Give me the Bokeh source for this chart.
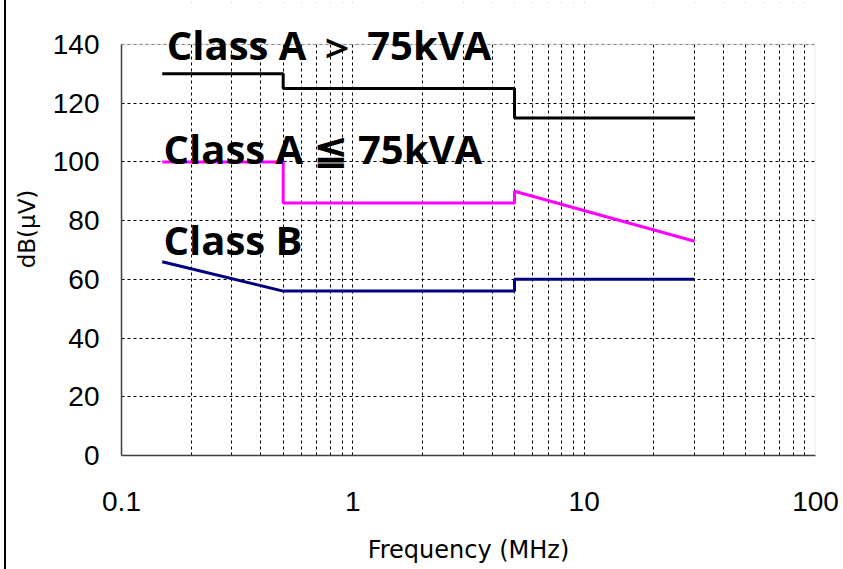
from bokeh.plotting import figure
from bokeh.models import (Range1d, FixedTicker, CustomJSTickFormatter, Label, BoxAnnotation, Div)
from bokeh.layouts import row
from bokeh.embed import file_html
from bokeh.resources import INLINE

# ---- data ----
class_a_gt_freq = [0.15, 0.5, 0.5, 5, 5, 30]
class_a_gt_level = [130, 130, 125, 125, 115, 115]

class_a_le_freq = [0.15, 0.5, 0.5, 5, 5, 30]
class_a_le_level = [100, 100, 86, 86, 90, 73]

class_b_freq = [0.15, 0.5, 5, 5, 30]
class_b_level = [66, 56, 56, 60, 60]

x_major_ticks = [0.1, 1, 10, 100]
x_tick_labels = ["0.1", "1", "10", "100"]
x_minor_ticks = [0.2, 0.3, 0.4, 0.5, 0.6, 0.7, 0.8, 0.9,
                 2, 3, 4, 5, 6, 7, 8, 9,
                 20, 30, 40, 50, 60, 70, 80, 90]
y_ticks = [0, 20, 40, 60, 80, 100, 120, 140]

series_labels = ["Class A \uff1e 75kVA", "Class A \u2266 75kVA", "Class B"]

X_MIN, X_MAX = 0.1, 100
Y_MIN, Y_MAX = 0, 140
Y_VIEW_MAX = 154.3   # extra head-room in the frame so the top label is not clipped

# ---- figure ----
p = figure(width=837, height=569, x_axis_type="log",
           x_range=Range1d(X_MIN, X_MAX), y_range=Range1d(Y_MIN, Y_VIEW_MAX),
           output_backend="svg", toolbar_location=None,
           min_border_left=115, min_border_right=28,
           min_border_top=2, min_border_bottom=114,
           background_fill_color="white", border_fill_color="white")

p.outline_line_color = None

# x axis
p.xaxis.ticker = FixedTicker(ticks=x_major_ticks, minor_ticks=x_minor_ticks)
p.xaxis.formatter = CustomJSTickFormatter(
    args=dict(tick_vals=x_major_ticks, tick_texts=x_tick_labels),
    code="""
    for (let i = 0; i < tick_vals.length; i++) {
        if (Math.abs(Math.log10(tick_vals[i]) - Math.log10(tick)) < 1e-6) return tick_texts[i];
    }
    return "";
    """)
p.yaxis.ticker = FixedTicker(ticks=y_ticks)
p.yaxis.bounds = (Y_MIN, Y_MAX)

for ax in (p.xaxis[0], p.yaxis[0]):
    ax.major_tick_out = 0
    ax.major_tick_in = 0
    ax.minor_tick_out = 0
    ax.minor_tick_in = 0
    ax.axis_line_color = "#404040"
    ax.axis_line_width = 1.5
    ax.major_label_text_font = "Liberation Sans"
    ax.major_label_text_font_size = "28px"
    ax.major_label_text_color = "black"
    ax.axis_label_text_font_style = "normal"
    ax.axis_label_text_color = "black"
    ax.axis_label_text_font = "DejaVu Sans"

p.xaxis.major_label_standoff = 36
p.yaxis.major_label_standoff = 22
p.xaxis.axis_label = "Frequency (MHz)"
p.xaxis.axis_label_text_font_size = "24px"
p.xaxis.axis_label_standoff = 22
p.yaxis.axis_label = "dB(\u03bcV)"
p.yaxis.axis_label_text_font_size = "23px"
p.yaxis.axis_label_standoff = 10

# grids
p.xgrid.grid_line_color = "black"
p.xgrid.grid_line_dash = "3 3"
p.xgrid.grid_line_width = 1
p.xgrid.minor_grid_line_color = "black"
p.xgrid.minor_grid_line_dash = "3 3"
p.xgrid.minor_grid_line_width = 1
p.ygrid.grid_line_color = "black"
p.ygrid.grid_line_dash = "3 3"
p.ygrid.grid_line_width = 1

# white mask above the plotting box (hides grid above 140) and the grey box border
p.add_layout(BoxAnnotation(bottom=Y_MAX, fill_color="white", fill_alpha=1,
                           line_alpha=0, level="underlay"))
p.add_layout(BoxAnnotation(left=X_MIN, right=X_MAX, bottom=Y_MIN, top=Y_MAX,
                           fill_alpha=0, line_color="#a0a0a0", line_width=1.5,
                           level="underlay"))

# lines
p.line(class_a_gt_freq, class_a_gt_level, line_color="black", line_width=3)
p.line(class_a_le_freq, class_a_le_level, line_color="#ff00ff", line_width=3)
p.line(class_b_freq, class_b_level, line_color="#000080", line_width=3)

# labels
label_pos = [(0.157, 140), (0.152, 104.6), (0.152, 73.6)]
for txt, (lx, ly) in zip(series_labels, label_pos):
    p.add_layout(Label(x=lx, y=ly, text=txt, text_font="Open Sans",
                       text_font_style="bold", text_font_size="40px",
                       text_color="black", text_baseline="alphabetic"))

# thin black rule at the very left of the original picture
rule = Div(text="", width=2, height=569, margin=(0, 0, 0, 4),
           styles={"background-color": "black"})

layout = row(rule, p, spacing=0)

open("out.html", "w").write(file_html(layout, INLINE))
